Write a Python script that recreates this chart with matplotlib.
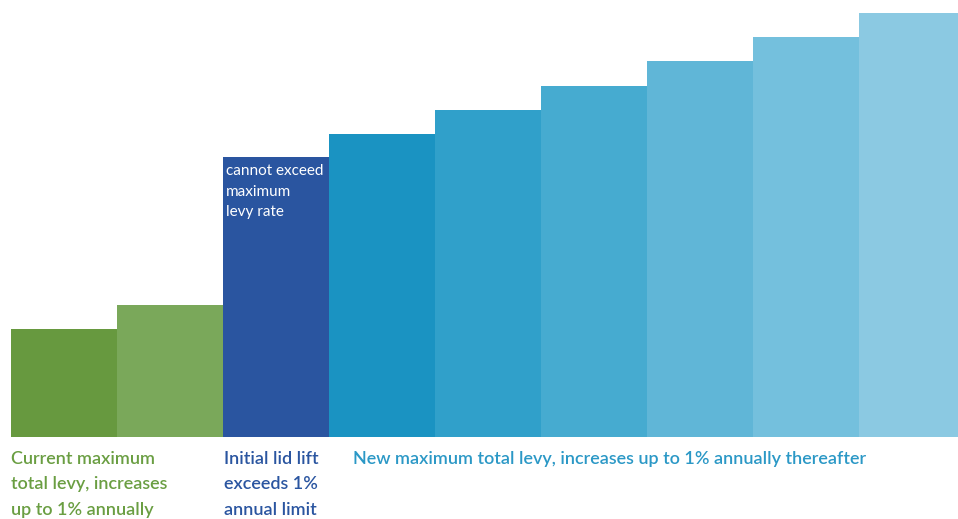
import matplotlib.pyplot as plt

# bar heights (pixel-ish units)
steps = list(range(9))
levy = [108, 132, 280, 303, 327, 351, 376, 400, 424]
colors = ['#67993f', '#7aa85a', '#2a55a0', '#1a93c2', '#30a0ca',
          '#46abd0', '#60b6d7', '#74c0dd', '#8bc9e2']

green_note = 'Current maximum\ntotal levy, increases\nup to 1% annually'
lid_note = 'Initial lid lift\nexceeds 1%\nannual limit'
bar_note = 'cannot exceed\nmaximum\nlevy rate'
new_note = 'New maximum total levy, increases up to 1% annually thereafter'

plt.rcParams['font.family'] = ['Lato', 'DejaVu Sans']

fig = plt.figure(figsize=(9.58, 5.19), dpi=100)
ax = fig.add_axes([0, 0, 1, 1])
ax.bar(steps, levy, width=1.0, color=colors, align='center', linewidth=0)

x0 = -0.5 - 11 / 106
ax.set_xlim(x0, x0 + 958 / 106)
ax.set_ylim(-82, 437)
ax.axis('off')

ax.text(-0.5, -14, green_note, color='#6a9e42', fontsize=13, fontweight='semibold',
        va='top', ha='left', linespacing=1.72)
ax.text(1.51, -14, lid_note, color='#2a55a0', fontsize=13, fontweight='semibold',
        va='top', ha='left', linespacing=1.72)
ax.text(1.53, levy[2] - 7, bar_note, color='white', fontsize=11,
        va='top', ha='left', linespacing=1.6)
ax.text(2.73, -14, new_note, color='#2b98c6', fontsize=13, fontweight='semibold',
        va='top', ha='left')

fig.savefig('out.png', dpi=100)
